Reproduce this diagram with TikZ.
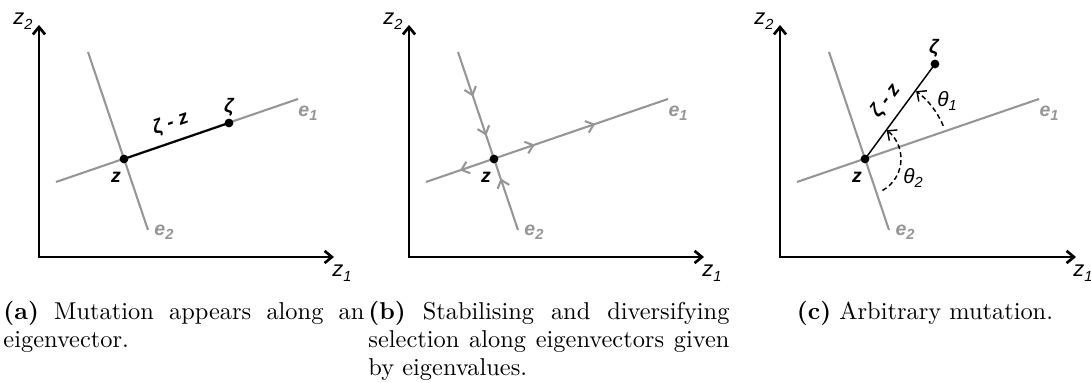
\documentclass[tikz,border=0pt]{standalone}
\usepackage{fontspec}
\usetikzlibrary{arrows.meta,decorations.markings}
\newfontfamily\labelfont{Liberation Sans}
\definecolor{vecgrey}{RGB}{150,150,150}
\newcommand{\lsub}[1]{\raisebox{-0.4ex}{\fontsize{6}{6}\selectfont #1}}
\hyphenpenalty=10000
\exhyphenpenalty=10000

\begin{document}
\begin{tikzpicture}[x=0.41pt,y=0.41pt,font=\labelfont\fontsize{8}{9}\selectfont,
  axis/.style={line width=1.1pt,{Straight Barb[length=3pt,width=5pt]}-{Straight Barb[length=3pt,width=5pt]}},
  eigvec/.style={vecgrey,line width=0.85pt},
  flowtip/.style={postaction={decorate},decoration={markings,#1}},
  dot/.style={circle,fill=black,inner sep=0pt,minimum size=3.6pt},
  veclabel/.style={vecgrey,font=\labelfont\fontsize{8}{9}\selectfont\bfseries\itshape,inner sep=0pt},
  ptlabel/.style={font=\labelfont\fontsize{8}{9}\selectfont\bfseries\itshape},
  axislabel/.style={font=\labelfont\fontsize{9}{10}\selectfont\itshape},
  anglabel/.style={font=\labelfont\fontsize{8.5}{9}\selectfont\itshape},
  angarc/.style={line width=0.6pt,dash pattern=on 2pt off 1.3pt,-{Straight Barb[length=3pt,width=5.5pt]}},
  capbox/.style={font=\rmfamily\fontsize{10}{11.3}\selectfont,text width=148pt,align=justify,inner sep=0pt,anchor=base west}]
\useasboundingbox (0,0) rectangle (1091,383);

% (a) mutation along an eigenvector
\coordinate (a-o) at (39,126);
\coordinate (a-y) at (39,358);
\coordinate (a-x) at (334,126);
\draw[axis] (a-y) -- (a-o) -- (a-x);
\node[axislabel] (a-z2) at (23,362) {z\lsub{2}};
\node[axislabel] (a-z1) at (342,110) {z\lsub{1}};
\coordinate (a-e1s) at (56,201);
\coordinate (a-e1t) at (298,284);
\coordinate (a-e2s) at (88,331);
\coordinate (a-e2t) at (148,153);
\draw[eigvec] (a-e1s) -- (a-e1t);
\draw[eigvec] (a-e2s) -- (a-e2t);
\node[veclabel,anchor=west] (a-e1) at (298,270) {e\lsub{1}};
\node[veclabel,anchor=west] (a-e2) at (154,151) {e\lsub{2}};
\node[dot] (a-z) at (124,224) {};
\node[dot] (a-zeta) at (229,260) {};
\draw[line width=0.85pt] (a-z.center) -- (a-zeta.center) node[midway,above,sloped,ptlabel] {ζ - z};
\node[ptlabel] (a-zl) at (116,206) {z};
\node[ptlabel] (a-zetal) at (229,276) {ζ};

% (b) stabilising and diversifying selection
\coordinate (b-o) at (409,126);
\coordinate (b-y) at (409,358);
\coordinate (b-x) at (704,126);
\draw[axis] (b-y) -- (b-o) -- (b-x);
\node[axislabel] (b-z2) at (393,362) {z\lsub{2}};
\node[axislabel] (b-z1) at (712,110) {z\lsub{1}};
\coordinate (b-e1s) at (426,201);
\coordinate (b-e1t) at (668,284);
\coordinate (b-e2s) at (458,331);
\coordinate (b-e2t) at (518,153);
\draw[eigvec,flowtip={mark=at position 0.14 with {\arrowreversed{Straight Barb[length=3pt,width=5pt]}},
  mark=at position 0.45 with {\arrow{Straight Barb[length=3pt,width=5pt]}},
  mark=at position 0.70 with {\arrow{Straight Barb[length=3pt,width=5pt]}}}] (b-e1s) -- (b-e1t);
\draw[eigvec,flowtip={mark=at position 0.25 with {\arrow{Straight Barb[length=3pt,width=5pt]}},
  mark=at position 0.47 with {\arrow{Straight Barb[length=3pt,width=5pt]}},
  mark=at position 0.71 with {\arrowreversed{Straight Barb[length=3pt,width=5pt]}}}] (b-e2s) -- (b-e2t);
\node[veclabel,anchor=west] (b-e1) at (668,270) {e\lsub{1}};
\node[veclabel,anchor=west] (b-e2) at (524,151) {e\lsub{2}};
\node[dot] (b-z) at (494,224) {};
\node[ptlabel] (b-zl) at (486,206) {z};

% (c) arbitrary mutation
\coordinate (c-o) at (780,126);
\coordinate (c-y) at (780,358);
\coordinate (c-x) at (1076,126);
\draw[axis] (c-y) -- (c-o) -- (c-x);
\node[axislabel] (c-z2) at (764,362) {z\lsub{2}};
\node[axislabel] (c-z1) at (1083,110) {z\lsub{1}};
\coordinate (c-e1s) at (797,201);
\coordinate (c-e1t) at (1039,284);
\coordinate (c-e2s) at (829,331);
\coordinate (c-e2t) at (889,153);
\draw[eigvec] (c-e1s) -- (c-e1t);
\draw[eigvec] (c-e2s) -- (c-e2t);
\node[veclabel,anchor=west] (c-e1) at (1039,270) {e\lsub{1}};
\node[veclabel,anchor=west] (c-e2) at (895,151) {e\lsub{2}};
\node[dot] (c-z) at (865,224) {};
\node[dot] (c-zeta) at (935,319) {};
\draw[line width=0.6pt] (c-z.center) -- (c-zeta.center) node[midway,above,sloped,ptlabel] {ζ - z};
\node[ptlabel] (c-zl) at (857,206) {z};
\node[ptlabel] (c-zetal) at (934,335) {ζ};
\draw[angarc] ([shift=(23:85)]c-z.center) arc[start angle=23,end angle=53,radius=85];
\draw[angarc] ([shift=(-61:36)]c-z.center) arc[start angle=-61,end angle=53,radius=36];
\node[anglabel] (c-th1) at (947,282) {θ\lsub{1}};
\node[anglabel] (c-th2) at (913,205) {θ\lsub{2}};

% captions
\node[capbox] (a-cap) at (3,63) {\textbf{(a)} Mutation appears along an eigenvector.};
\node[capbox] (b-cap) at (368,63) {\textbf{(b)} Stabilising and diversifying selection along eigenvectors given by eigenvalues.};
\node[font=\rmfamily\fontsize{10}{11.3}\selectfont,inner sep=0pt,anchor=base] (c-cap) at (925,63) {\textbf{(c)} Arbitrary mutation.};
\end{tikzpicture}
\end{document}
